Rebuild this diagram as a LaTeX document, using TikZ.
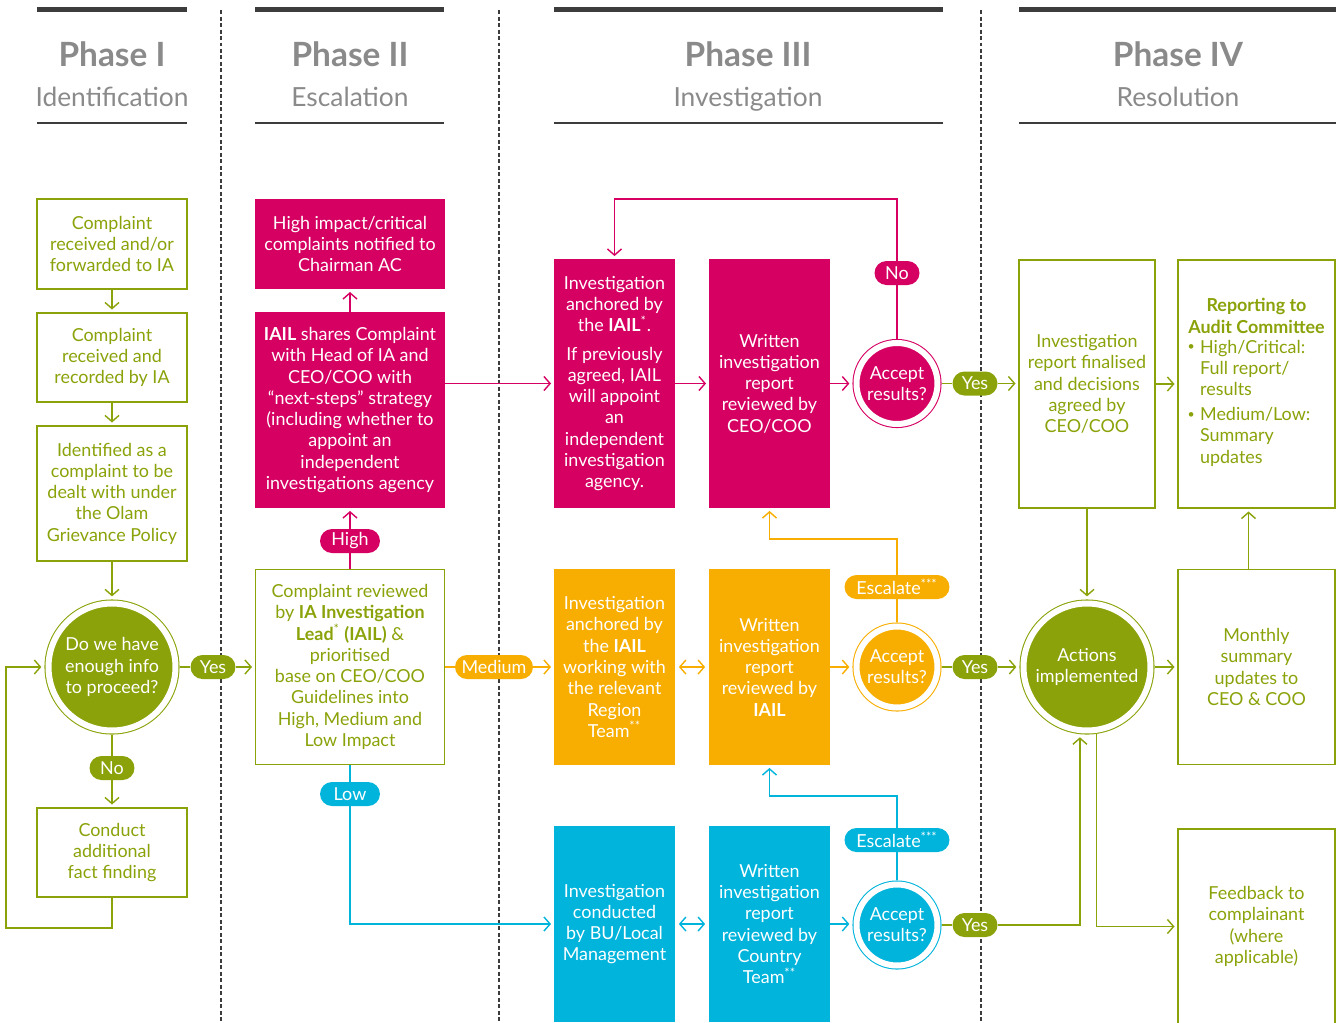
\documentclass[tikz,border=0pt]{standalone}
\usepackage{fontspec}
\setmainfont{Lato}
\usepackage{tikz}
\usetikzlibrary{arrows.meta}
\definecolor{olamGreen}{RGB}{140,162,10}
\definecolor{olamMagenta}{RGB}{214,0,98}
\definecolor{olamOrange}{RGB}{248,174,0}
\definecolor{olamCyan}{RGB}{0,180,220}
\definecolor{hdrGray}{RGB}{138,138,138}
\definecolor{barGray}{RGB}{60,60,60}
\newcommand{\boxfont}{\fontsize{10.2}{12.1}\selectfont}
\newcommand{\smallbullet}{\raisebox{1.4pt}{\fontsize{7}{7}\selectfont\textbullet}}

\begin{document}
\begin{tikzpicture}[
  x=0.02cm, y=-0.02cm,
  htitle/.style={font=\fontsize{19}{22}\selectfont\bfseries, text=hdrGray, inner sep=0pt, anchor=base},
  hsub/.style={font=\fontsize{15}{18}\selectfont, text=hdrGray, inner sep=0pt, anchor=base},
  hbar/.style={draw=barGray, line width=0.1cm},
  hrule/.style={draw=barGray, line width=1.1pt},
  divider/.style={draw=barGray, line width=0.6pt, dash pattern=on 0.08cm off 0.05cm},
  gbox/.style={rectangle, draw=olamGreen, line width=1pt, fill=white, text=olamGreen,
               align=center, minimum width=3cm, inner sep=2pt, font=\boxfont},
  fbox/.style={rectangle, fill=#1, text=white, align=center, minimum width=2.42cm,
               inner sep=2pt, font=\boxfont},
  pill/.style={rectangle, rounded corners=0.24cm, fill=#1, text=white, minimum height=0.48cm,
               minimum width=0.9cm, inner xsep=3pt, inner ysep=0pt, font=\boxfont},
  dec/.style={circle, fill=#1, draw=#1, line width=0.6pt, double=white, double distance=0.12cm,
              text=white, align=center, outer sep=0.09cm, inner sep=0pt, font=\boxfont},
  ln/.style={draw=#1, line width=0.8pt},
  arr/.style={ln=#1, -{Straight Barb[length=3.5pt, width=8pt]}, shorten >=1.5pt},
  dbl/.style={ln=#1, {Straight Barb[length=3.5pt, width=8pt]}-{Straight Barb[length=3.5pt, width=8pt]},
              shorten >=2pt, shorten <=2pt}
]
  \useasboundingbox (0,0) rectangle (1336,1022);

  % Phase headers
  \draw[hbar] (37,9) -- (187,9);
  \draw[hrule] (37,123) -- (187,123);
  \node[htitle] (ph1) at (112,66) {Phase I};
  \node[hsub] (ph1s) at (112,106) {Identification};

  \draw[hbar] (255,9) -- (444,9);
  \draw[hrule] (255,123) -- (444,123);
  \node[htitle] (ph2) at (350,66) {Phase II};
  \node[hsub] (ph2s) at (350,106) {Escalation};

  \draw[hbar] (554,9) -- (943,9);
  \draw[hrule] (554,123) -- (943,123);
  \node[htitle] (ph3) at (748,66) {Phase III};
  \node[hsub] (ph3s) at (748,106) {Investigation};

  \draw[hbar] (1019,9) -- (1336,9);
  \draw[hrule] (1019,123) -- (1336,123);
  \node[htitle] (ph4) at (1178,66) {Phase IV};
  \node[hsub] (ph4s) at (1178,106) {Resolution};

  % Phase dividers
  \draw[divider] (221,10) -- (221,1022);
  \draw[divider] (499,10) -- (499,1022);
  \draw[divider] (981,10) -- (981,1022);

  % Phase I
  \node[gbox, minimum height=1.8cm] (rcv) at (112,244) {Complaint\\received and/or\\forwarded to IA};
  \node[gbox, minimum height=1.78cm] (rec) at (112,357.5) {Complaint\\received and\\recorded by IA};
  \node[gbox, minimum height=2.7cm] (ident) at (112,493.5) {Identified as a\\complaint to be\\dealt with under\\the Olam\\Grievance Policy};
  \node[dec=olamGreen, minimum size=2.54cm] (enough) at (112,667) {Do we have\\enough info\\to proceed?};
  \node[pill=olamGreen] (yes1) at (213,667) {Yes};
  \node[pill=olamGreen] (no1) at (112,768) {No};
  \node[gbox, minimum height=1.78cm] (fact) at (112,852.5) {Conduct\\additional\\fact finding};
  \coordinate (loopa) at (112,928);
  \coordinate (loopb) at (6,928);

  \draw[arr=olamGreen] (rcv) -- (rec);
  \draw[arr=olamGreen] (rec) -- (ident);
  \draw[arr=olamGreen] (ident) -- (enough);
  \draw[ln=olamGreen] (enough) -- (yes1);
  \draw[ln=olamGreen] (enough) -- (no1);
  \draw[arr=olamGreen] (no1) -- (fact);
  \draw[arr=olamGreen] (fact) -- (loopa) -- (loopb) |- (enough);

  % Phase II
  \node[fbox=olamMagenta, minimum width=3.8cm, minimum height=1.8cm] (chair) at (350,244) {High impact/critical\\complaints notified to\\Chairman AC};
  \node[fbox=olamMagenta, minimum width=3.8cm, minimum height=3.92cm] (share) at (350,410) {\textbf{IAIL} shares Complaint\\with Head of IA and\\CEO/COO with\\“next-steps” strategy\\(including whether to\\appoint an\\independent\\investigations agency};
  \node[pill=olamMagenta, minimum width=1.2cm] (high) at (350,541) {High};
  \node[gbox, minimum width=3.78cm, minimum height=3.9cm] (review) at (350,667) {Complaint reviewed\\by \textbf{IA Investigation}\\\textbf{Lead}\textsuperscript{*} \textbf{(IAIL)} \&\\prioritised\\base on CEO/COO\\Guidelines into\\High, Medium and\\Low Impact};
  \node[pill=olamCyan, minimum width=1.2cm] (low) at (350,794) {Low};
  \node[pill=olamOrange, minimum width=1.56cm] (medium) at (494,667) {Medium};

  \draw[arr=olamGreen] (yes1) -- (yes1 -| review.west);
  \draw[arr=olamMagenta] (share) -- (chair);
  \draw[ln=olamMagenta] (review) -- (high);
  \draw[arr=olamMagenta] (high) -- (share);
  \draw[ln=olamOrange] (review) -- (medium);
  \draw[ln=olamCyan] (review) -- (low);

  % Phase III - high impact row
  \node[fbox=olamMagenta, minimum height=4.98cm] (anch) at (614.5,383.5) {Investigation\\anchored by\\the \textbf{IAIL}\textsuperscript{*}.\\[4pt]If previously\\agreed, IAIL\\will appoint\\an\\independent\\investigation\\agency.};
  \node[fbox=olamMagenta, minimum height=4.98cm] (wrc) at (769.5,383.5) {Written\\investigation\\report\\reviewed by\\CEO/COO};
  \node[dec=olamMagenta, minimum size=1.62cm] (acc1) at (897,383.5) {Accept\\results?};
  \node[pill=olamMagenta] (no2) at (897,273) {No};
  \coordinate (noturn) at (897,199);
  \node[pill=olamGreen] (yes2) at (975,383.5) {Yes};

  \draw[arr=olamMagenta] (share.east |- anch.west) -- (anch);
  \draw[arr=olamMagenta] (anch) -- (wrc);
  \draw[arr=olamMagenta] (wrc) -- (acc1);
  \draw[ln=olamMagenta] (acc1) -- (no2);
  \draw[arr=olamMagenta] (no2) -- (noturn) -| (anch);
  \draw[ln=olamGreen] (acc1) -- (yes2);

  % Phase III - medium impact row
  \node[fbox=olamOrange, minimum height=3.92cm] (inv2) at (614.5,667) {Investigation\\anchored by\\the \textbf{IAIL}\\working with\\the relevant\\Region\\Team\textsuperscript{**}};
  \node[fbox=olamOrange, minimum height=3.92cm] (rep2) at (769.5,667) {Written\\investigation\\report\\reviewed by\\\textbf{IAIL}};
  \node[dec=olamOrange, minimum size=1.62cm] (acc2) at (897,667) {Accept\\results?};
  \node[pill=olamOrange, minimum width=2.1cm] (esc1) at (897,587) {Escalate\textsuperscript{***}};
  \coordinate (eturn1) at (897,539);
  \node[pill=olamGreen] (yes3) at (975,667) {Yes};

  \draw[arr=olamOrange] (medium) -- (inv2);
  \draw[dbl=olamOrange] (inv2) -- (rep2);
  \draw[arr=olamOrange] (rep2) -- (acc2);
  \draw[ln=olamOrange] (acc2) -- (esc1);
  \draw[arr=olamOrange] (esc1) -- (eturn1) -| (wrc);
  \draw[ln=olamGreen] (acc2) -- (yes3);

  % Phase III - low impact row
  \node[fbox=olamCyan, minimum height=3.92cm] (inv3) at (614.5,924) {Investigation\\conducted\\by BU/Local\\Management};
  \node[fbox=olamCyan, minimum height=3.92cm] (rep3) at (769.5,924) {Written\\investigation\\report\\reviewed by\\Country\\Team\textsuperscript{**}};
  \node[dec=olamCyan, minimum size=1.62cm] (acc3) at (897,925) {Accept\\results?};
  \node[pill=olamCyan, minimum width=2.1cm] (esc2) at (897,840) {Escalate\textsuperscript{***}};
  \coordinate (eturn2) at (897,796);
  \node[pill=olamGreen] (yes4) at (975,925) {Yes};

  \draw[arr=olamCyan] (low) |- (inv3);
  \draw[dbl=olamCyan] (inv3) -- (rep3);
  \draw[arr=olamCyan] (rep3) -- (rep3 -| acc3.west);
  \draw[ln=olamCyan] (acc3) -- (esc2);
  \draw[arr=olamCyan] (esc2) -- (eturn2) -| (rep2);
  \draw[ln=olamGreen] (acc3) -- (yes4);

  % Phase IV
  \node[gbox, minimum width=2.72cm, minimum height=4.96cm] (fin) at (1087,384) {Investigation\\report finalised\\and decisions\\agreed by\\CEO/COO};
  \node[gbox, minimum width=3.14cm, minimum height=4.96cm] (aud) at (1256.5,384) {\textbf{Reporting to}\\\textbf{Audit Committee}\\[2pt]\begin{tabular}{@{}l@{\hspace{3pt}}l@{}}\smallbullet&High/Critical:\\&Full report/\\&results\\[2pt]\smallbullet&Medium/Low:\\&Summary\\&updates\end{tabular}\hspace*{0.3cm}};
  \node[dec=olamGreen, minimum size=2.54cm] (act) at (1087,667) {Actions\\implemented};
  \node[gbox, minimum width=3.14cm, minimum height=3.9cm] (mon) at (1256.5,667) {Monthly\\summary\\updates to\\CEO \& COO};
  \node[gbox, minimum width=3.14cm, minimum height=3.9cm] (fb) at (1256.5,926.5) {Feedback to\\complainant\\(where\\applicable)};

  \draw[arr=olamGreen] (yes2) -- (yes2 -| fin.west);
  \draw[arr=olamGreen] (yes3) -- (act);
  \draw[arr=olamGreen] (yes4) -| (act.-96);
  \draw[arr=olamGreen] (fin) -- (aud);
  \draw[arr=olamGreen] (fin) -- (act);
  \draw[arr=olamGreen] (act) -- (mon);
  \draw[arr=olamGreen] ([xshift=-0.16cm]mon.north) -- ([xshift=-0.16cm]aud.south);
  \draw[arr=olamGreen] (act.-82) |- (fb);
\end{tikzpicture}
\end{document}
